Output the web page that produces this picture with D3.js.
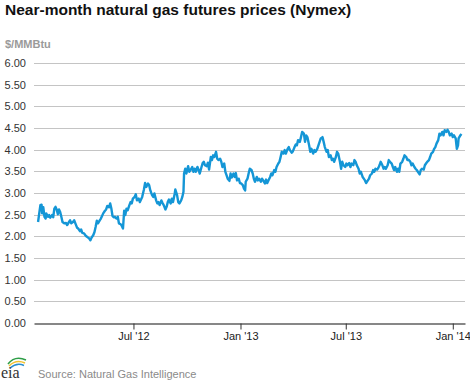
<!DOCTYPE html>
<html><head><meta charset="utf-8">
<script src="https://cdn.jsdelivr.net/npm/d3@7"></script>
<style>
body{margin:0;background:#fff}
svg{display:block;font-family:"Liberation Sans",Arial,sans-serif}
</style></head>
<body><svg id="c" width="470" height="383"></svg>
<script>
const title = "Near-month natural gas futures prices (Nymex)";
const unitLabel = "$/MMBtu";
const sourceText = "Source: Natural Gas Intelligence";
const yTicks = [0,0.5,1,1.5,2,2.5,3,3.5,4,4.5,5,5.5,6];
const xTickDates = ["2012-07-01","2013-01-01","2013-07-01","2014-01-01"];
const xTickLabels = ["Jul '12","Jan '13","Jul '13","Jan '14"];
const xDomain = ["2012-01-12","2014-01-22"];

const dates = [
"2012-01-19","2012-01-21","2012-01-23","2012-01-25","2012-01-26","2012-01-28","2012-01-30","2012-02-01","2012-02-02","2012-02-05",
"2012-02-07","2012-02-09","2012-02-12","2012-02-14","2012-02-16","2012-02-18","2012-02-20","2012-02-22","2012-02-24","2012-02-26",
"2012-02-28","2012-03-01","2012-03-04","2012-03-07","2012-03-09","2012-03-12","2012-03-14","2012-03-16","2012-03-19","2012-03-21",
"2012-03-24","2012-03-26","2012-03-28","2012-03-31","2012-04-02","2012-04-04","2012-04-07","2012-04-09","2012-04-11","2012-04-14",
"2012-04-16","2012-04-18","2012-04-20","2012-04-23","2012-04-25","2012-04-27","2012-04-29","2012-05-01","2012-05-04","2012-05-06",
"2012-05-08","2012-05-10","2012-05-13","2012-05-15","2012-05-17","2012-05-20","2012-05-22","2012-05-24","2012-05-26","2012-05-28",
"2012-05-30","2012-06-02","2012-06-04","2012-06-06","2012-06-09","2012-06-11","2012-06-13","2012-06-15","2012-06-17","2012-06-19",
"2012-06-21","2012-06-24","2012-06-26","2012-06-28","2012-06-30","2012-07-03","2012-07-05","2012-07-07","2012-07-10","2012-07-12",
"2012-07-14","2012-07-16","2012-07-19","2012-07-21","2012-07-23","2012-07-26","2012-07-28","2012-07-30","2012-08-02","2012-08-04",
"2012-08-06","2012-08-09","2012-08-11","2012-08-13","2012-08-15","2012-08-18","2012-08-20","2012-08-22","2012-08-25","2012-08-27",
"2012-08-29","2012-08-31","2012-09-03","2012-09-05","2012-09-07","2012-09-10","2012-09-11","2012-09-14","2012-09-16","2012-09-18",
"2012-09-21","2012-09-23","2012-09-25","2012-09-26","2012-09-28","2012-09-30","2012-10-03","2012-10-05","2012-10-07","2012-10-10",
"2012-10-12","2012-10-14","2012-10-16","2012-10-19","2012-10-21","2012-10-23","2012-10-26","2012-10-28","2012-10-30","2012-11-01",
"2012-11-04","2012-11-06","2012-11-08","2012-11-11","2012-11-13","2012-11-15","2012-11-17","2012-11-20","2012-11-22","2012-11-24",
"2012-11-27","2012-11-29","2012-12-01","2012-12-04","2012-12-06","2012-12-08","2012-12-10","2012-12-13","2012-12-15","2012-12-17",
"2012-12-20","2012-12-22","2012-12-24","2012-12-26","2012-12-29","2012-12-31",
"2013-01-02","2013-01-05","2013-01-07","2013-01-09","2013-01-10","2013-01-13","2013-01-15","2013-01-17","2013-01-20","2013-01-22",
"2013-01-24","2013-01-26","2013-01-29","2013-01-31","2013-02-02","2013-02-05","2013-02-07","2013-02-09","2013-02-12","2013-02-14",
"2013-02-16","2013-02-18","2013-02-21","2013-02-23","2013-02-25","2013-02-28","2013-03-02","2013-03-04","2013-03-07","2013-03-09",
"2013-03-11","2013-03-13","2013-03-16","2013-03-18","2013-03-20","2013-03-23","2013-03-25","2013-03-27","2013-03-30","2013-04-01",
"2013-04-04","2013-04-06","2013-04-08","2013-04-10","2013-04-13","2013-04-15","2013-04-17","2013-04-20","2013-04-22","2013-04-24",
"2013-04-26","2013-04-29","2013-05-01","2013-05-03","2013-05-06","2013-05-08","2013-05-10","2013-05-13","2013-05-15","2013-05-17",
"2013-05-19","2013-05-22","2013-05-24","2013-05-26","2013-05-29","2013-05-31","2013-06-02","2013-06-05","2013-06-07","2013-06-09",
"2013-06-11","2013-06-14","2013-06-16","2013-06-18","2013-06-21","2013-06-23","2013-06-25","2013-06-27","2013-06-30","2013-07-02",
"2013-07-04","2013-07-07","2013-07-09","2013-07-11","2013-07-14","2013-07-16","2013-07-18","2013-07-20","2013-07-23","2013-07-25",
"2013-07-27","2013-07-30","2013-08-01","2013-08-03","2013-08-05","2013-08-08","2013-08-10","2013-08-12","2013-08-15","2013-08-17",
"2013-08-19","2013-08-21","2013-08-24","2013-08-26","2013-08-28","2013-08-30","2013-09-02","2013-09-04","2013-09-06","2013-09-08",
"2013-09-11","2013-09-13","2013-09-15","2013-09-18","2013-09-20","2013-09-22","2013-09-24","2013-09-27","2013-09-29","2013-10-01",
"2013-10-03","2013-10-06","2013-10-08","2013-10-10","2013-10-13","2013-10-15","2013-10-17","2013-10-20","2013-10-22","2013-10-24",
"2013-10-27","2013-10-29","2013-10-31","2013-11-02","2013-11-05","2013-11-07","2013-11-09","2013-11-12","2013-11-14","2013-11-16",
"2013-11-18","2013-11-21","2013-11-23","2013-11-25","2013-11-28","2013-11-30","2013-12-02","2013-12-04","2013-12-07","2013-12-09",
"2013-12-11","2013-12-14","2013-12-16","2013-12-18","2013-12-21","2013-12-23","2013-12-25","2013-12-27","2013-12-30",
"2014-01-01","2014-01-03","2014-01-06","2014-01-08","2014-01-10","2014-01-11","2014-01-14","2014-01-16"
];
const prices = [
2.33,2.53,2.72,2.73,2.53,2.67,2.45,2.41,2.53,2.45,
2.49,2.43,2.49,2.44,2.64,2.68,2.62,2.51,2.62,2.56,
2.45,2.33,2.30,2.31,2.26,2.33,2.37,2.30,2.33,2.37,
2.27,2.20,2.18,2.12,2.16,2.08,2.07,2.03,2.00,1.97,
1.95,1.91,1.97,2.03,2.10,2.22,2.36,2.30,2.37,2.41,
2.47,2.53,2.59,2.62,2.70,2.67,2.76,2.64,2.47,2.44,
2.45,2.41,2.45,2.30,2.28,2.24,2.18,2.59,2.49,2.64,
2.60,2.72,2.79,2.76,2.87,2.91,2.97,2.83,2.87,2.79,
2.85,2.91,3.08,3.23,3.14,3.22,3.18,3.06,2.95,2.91,
2.99,2.83,2.76,2.79,2.72,2.83,2.77,2.72,2.62,2.68,
2.79,2.85,2.76,2.87,2.79,2.99,3.08,2.95,2.79,2.76,
2.83,2.91,3.03,3.45,3.56,3.45,3.62,3.49,3.53,3.60,
3.49,3.56,3.49,3.60,3.53,3.45,3.60,3.69,3.72,3.64,
3.62,3.70,3.54,3.83,3.76,3.87,3.83,3.95,3.79,3.76,
3.79,3.72,3.60,3.68,3.49,3.41,3.33,3.28,3.45,3.36,
3.45,3.37,3.46,3.29,3.33,3.23,
3.22,3.18,3.10,3.06,3.26,3.33,3.45,3.56,3.53,3.45,
3.33,3.26,3.37,3.29,3.33,3.26,3.33,3.29,3.22,3.31,
3.23,3.29,3.37,3.45,3.41,3.53,3.49,3.60,3.68,3.72,
3.83,3.95,3.91,3.99,3.91,4.02,4.06,3.99,3.93,3.96,
4.06,4.12,4.10,4.22,4.18,4.29,4.41,4.37,4.18,4.33,
4.29,4.10,3.95,4.02,3.91,3.99,3.95,4.02,4.10,4.18,
4.26,4.29,4.18,4.06,3.95,3.99,3.83,3.87,3.76,3.79,
3.72,3.83,3.95,3.91,3.72,3.56,3.72,3.64,3.60,3.68,
3.64,3.69,3.60,3.68,3.64,3.76,3.72,3.64,3.56,3.45,
3.49,3.37,3.33,3.29,3.23,3.29,3.33,3.41,3.45,3.53,
3.49,3.56,3.54,3.58,3.64,3.72,3.64,3.56,3.60,3.56,
3.64,3.76,3.72,3.68,3.60,3.53,3.60,3.49,3.56,3.49,
3.68,3.72,3.79,3.87,3.83,3.76,3.77,3.72,3.64,3.68,
3.60,3.56,3.53,3.49,3.43,3.53,3.56,3.54,3.64,3.68,
3.72,3.76,3.83,3.91,3.95,4.02,4.06,4.14,4.22,4.37,
4.33,4.41,4.33,4.45,4.41,4.46,4.41,4.33,4.37,
4.29,4.33,4.26,4.02,4.10,4.26,4.33,4.36
];

const parse = d3.utcParse("%Y-%m-%d");
const data = dates.map((d,i)=>({date:parse(d), value:prices[i]}));

const svg = d3.select("#c");
const L = 34, R = 465, T = 63, B = 323;
const x = d3.scaleUtc().domain(xDomain.map(parse)).range([L, R]);
const y = d3.scaleLinear().domain([0, 6]).range([B, T]);

// title
svg.append("text").attr("x",5).attr("y",15)
  .attr("font-size","15.5px").attr("font-weight","bold").attr("fill","#111")
  .text(title);
svg.append("text").attr("x",5).attr("y",48)
  .attr("font-size","11px").attr("font-weight","bold").attr("fill","#9a9a9a")
  .text(unitLabel);

// grid
svg.append("g").selectAll("line").data(yTicks.filter(v=>v>0)).join("line")
  .attr("x1",L).attr("x2",R)
  .attr("y1",d=>Math.round(y(d))+0.5).attr("y2",d=>Math.round(y(d))+0.5)
  .attr("stroke","#c4c4c4").attr("stroke-width",1);

// y axis labels
const ya = svg.append("g").attr("transform",`translate(${L},0)`)
  .call(d3.axisLeft(y).tickValues(yTicks).tickFormat(d3.format(".2f")).tickSize(0).tickPadding(8));
ya.select(".domain").remove();
ya.selectAll("text").attr("font-size","11px").attr("fill","#333")
  .attr("font-family","'Liberation Sans',Arial,sans-serif");

// x axis
const xa = svg.append("g").attr("transform",`translate(0,${Math.round(B)+0.5})`)
  .call(d3.axisBottom(x).tickValues(xTickDates.map(parse))
    .tickFormat((d,i)=>xTickLabels[i]).tickSize(6).tickSizeOuter(0).tickPadding(3));
xa.select(".domain").attr("stroke","#111").attr("stroke-width",1.2);
xa.selectAll(".tick line").attr("stroke","#333");
xa.selectAll("text").attr("font-size","11px").attr("fill","#222")
  .attr("font-family","'Liberation Sans',Arial,sans-serif");

// line
svg.append("path").datum(data)
  .attr("fill","none").attr("stroke","#1496d6").attr("stroke-width",2.4)
  .attr("stroke-linejoin","round")
  .attr("d", d3.line().x(d=>x(d.date)).y(d=>y(d.value)));

// source
svg.append("text").attr("x",38).attr("y",378)
  .attr("font-size","11px").attr("fill","#8a8a8a").text(sourceText);

// eia logo
const logo = svg.append("g");
logo.append("path").attr("d","M8,364 Q15,355 26,360").attr("fill","none").attr("stroke","#2e9e47").attr("stroke-width",1.6);
logo.append("path").attr("d","M9,366 Q16,359 25,363").attr("fill","none").attr("stroke","#f2c230").attr("stroke-width",1.6);
logo.append("path").attr("d","M10,368 Q17,362 24,365.5").attr("fill","none").attr("stroke","#2a8fd0").attr("stroke-width",1.4);
logo.append("text").attr("x",1).attr("y",378).attr("font-family","'Liberation Serif','DejaVu Serif',serif")
  .attr("font-size","16px").attr("fill","#333").text("eia");
</script></body></html>
